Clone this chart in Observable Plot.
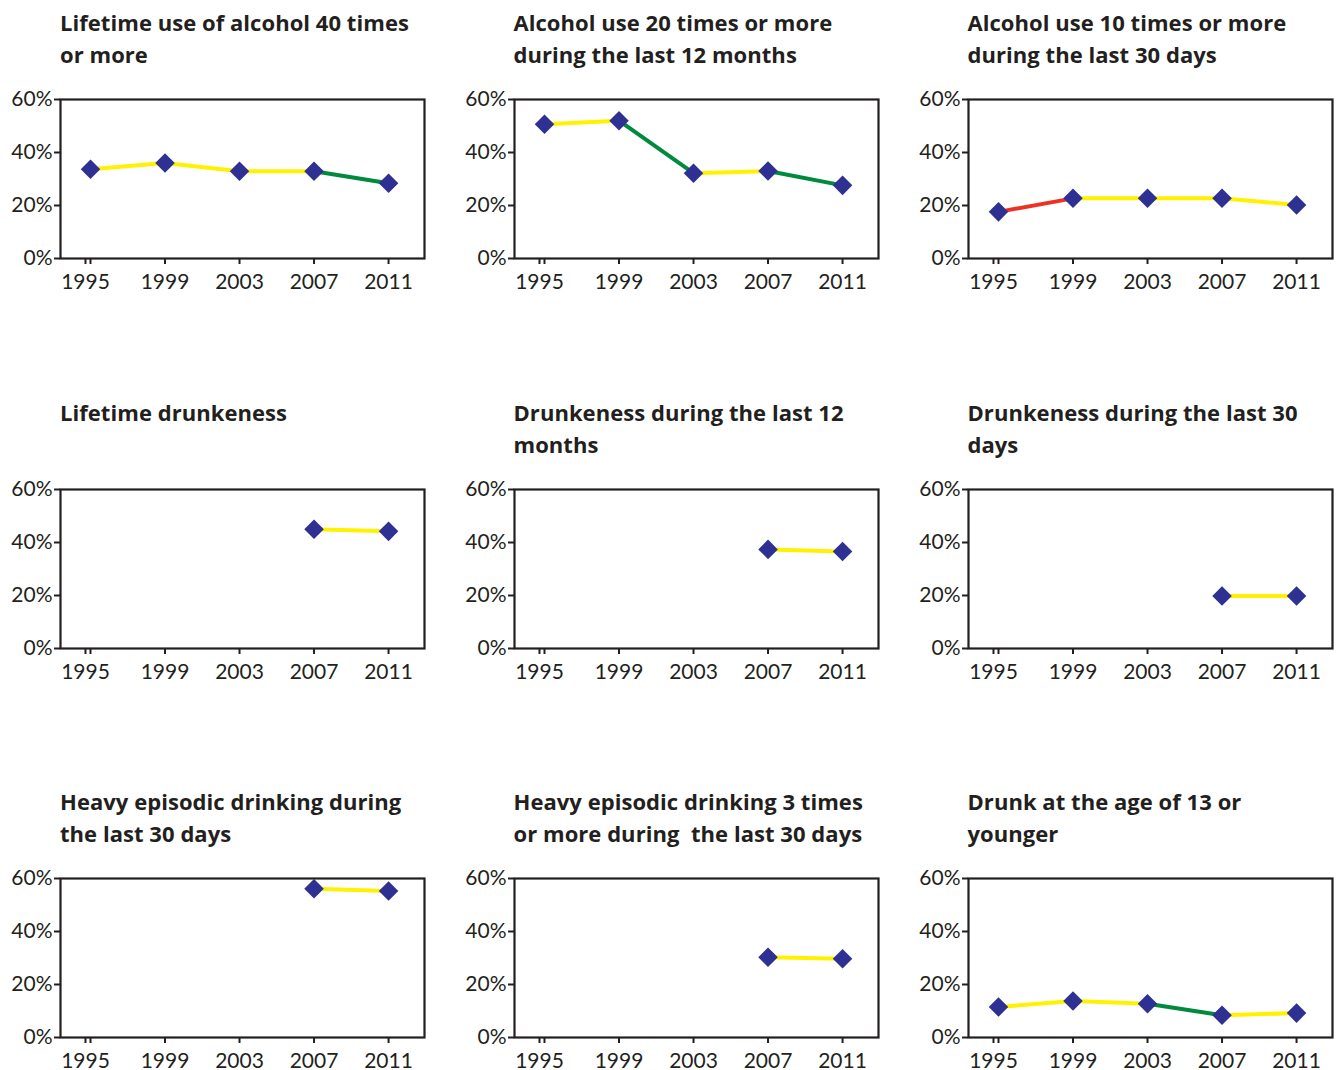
<!DOCTYPE html>
<html>
<head>
<meta charset="utf-8">
<script src="https://cdn.jsdelivr.net/npm/d3@7"></script>
<script src="https://cdn.jsdelivr.net/npm/@observablehq/plot@0.6"></script>
<style>
  html, body { margin: 0; padding: 0; background: #fff; }
  #root { position: relative; width: 1338px; height: 1070px; overflow: hidden; }
  .ttl { position: absolute; font-family: "Open Sans", Lato, sans-serif; font-weight: 700; font-size: 22px; letter-spacing: 0.05px; line-height: 32px; color: #231f20; white-space: pre; }
  .pnl { position: absolute; }
</style>
</head>
<body>
<div id="root"></div>
<script>
// ---- data ----
const years = [1995, 1999, 2003, 2007, 2011];
const yTicks = [0, 20, 40, 60];

const titles = [
  "Lifetime use of alcohol 40 times\nor more",
  "Alcohol use 20 times or more\nduring the last 12 months",
  "Alcohol use 10 times or more\nduring the last 30 days",
  "Lifetime drunkeness",
  "Drunkeness during the last 12\nmonths",
  "Drunkeness during the last 30\ndays",
  "Heavy episodic drinking during\nthe last 30 days",
  "Heavy episodic drinking 3 times\nor more during  the last 30 days",
  "Drunk at the age of 13 or\nyounger"
];

// values in percent (null = not measured)
const lifetime40      = [33.7, 36.0, 32.9, 32.9, 28.4];
const use20Year       = [50.7, 52.0, 32.2, 33.0, 27.6];
const use10Month      = [17.6, 22.7, 22.7, 22.7, 20.2];
const drunkLifetime   = [null, null, null, 45.0, 44.2];
const drunkYear       = [null, null, null, 37.4, 36.6];
const drunkMonth      = [null, null, null, 19.8, 19.8];
const heavyMonth      = [null, null, null, 56.1, 55.3];
const heavy3Month     = [null, null, null, 30.3, 29.7];
const drunkBy13       = [11.5, 13.8, 12.7, 8.4, 9.2];

// change between consecutive surveys
const lifetime40Chg    = ["stable", "stable", "stable", "decrease"];
const use20YearChg     = ["stable", "decrease", "stable", "decrease"];
const use10MonthChg    = ["increase", "stable", "stable", "stable"];
const drunkLifetimeChg = [null, null, null, "stable"];
const drunkYearChg     = [null, null, null, "stable"];
const drunkMonthChg    = [null, null, null, "stable"];
const heavyMonthChg    = [null, null, null, "stable"];
const heavy3MonthChg   = [null, null, null, "stable"];
const drunkBy13Chg     = ["stable", "stable", "decrease", "stable"];

const changeCats = ["stable", "decrease", "increase"];
const changeColors = ["#fff200", "#008a3e", "#ee3124"];

const seriesValues = [lifetime40, use20Year, use10Month, drunkLifetime, drunkYear, drunkMonth, heavyMonth, heavy3Month, drunkBy13];
const seriesChanges = [lifetime40Chg, use20YearChg, use10MonthChg, drunkLifetimeChg, drunkYearChg, drunkMonthChg, heavyMonthChg, heavy3MonthChg, drunkBy13Chg];

// ---- layout ----
const colOffsets = [0, 453.5, 907.5];
const rowOffsets = [0, 390, 779];
const ink = "#231f20";
const root = document.getElementById("root");

seriesValues.forEach((vals, i) => {
  const col = i % 3, row = Math.floor(i / 3);
  const left = colOffsets[col], top = rowOffsets[row];

  const t = document.createElement("div");
  t.className = "ttl";
  t.style.left = (left + 60) + "px";
  t.style.top = (top + 6) + "px";
  t.textContent = titles[i];
  root.appendChild(t);

  const pts = years.map((y, j) => ({year: y, value: vals[j]})).filter(d => d.value != null);
  const segs = seriesChanges[i].map((c, j) => c ? {x1: years[j], y1: vals[j], x2: years[j + 1], y2: vals[j + 1], change: c} : null).filter(Boolean);

  const chart = Plot.plot({
    width: 430, height: 201,
    marginLeft: 60, marginRight: 6, marginTop: 10, marginBottom: 32,
    style: {fontFamily: "Lato, 'Open Sans', sans-serif", fontSize: "21px", color: ink, background: "transparent", overflow: "visible"},
    x: {type: "linear", domain: [1993.39, 2012.93]},
    y: {domain: [0, 60]},
    color: {domain: changeCats, range: changeColors},
    marks: [
      Plot.link(segs, {x1: "x1", y1: "y1", x2: "x2", y2: "y2", stroke: "change", strokeWidth: 4}),
      Plot.dot(pts, {x: "year", y: "value", symbol: "diamond2", r: 8.8, fill: "#2e3192", stroke: null}),
      Plot.frame({stroke: ink, strokeWidth: 2.2}),
      Plot.axisX({ticks: years.slice(0, 1), tickSize: 6, tickPadding: 10, strokeWidth: 2, dx: -5, tickFormat: d => String(d), label: null}),
      Plot.axisX({ticks: years.slice(0, 1), tickSize: 6, tickPadding: 0, strokeWidth: 2, tickFormat: () => "", label: null}),
      Plot.axisX({ticks: years.slice(1), tickSize: 6, tickPadding: 10, strokeWidth: 2, tickFormat: d => String(d), label: null}),
      Plot.axisY({ticks: yTicks, tickSize: 6, tickPadding: 2, strokeWidth: 2, tickFormat: d => d + "%", label: null})
    ]
  });
  const wrap = document.createElement("div");
  wrap.className = "pnl";
  wrap.style.left = left + "px";
  wrap.style.top = (top + 89) + "px";
  wrap.appendChild(chart);
  root.appendChild(wrap);
});
</script>
</body>
</html>
